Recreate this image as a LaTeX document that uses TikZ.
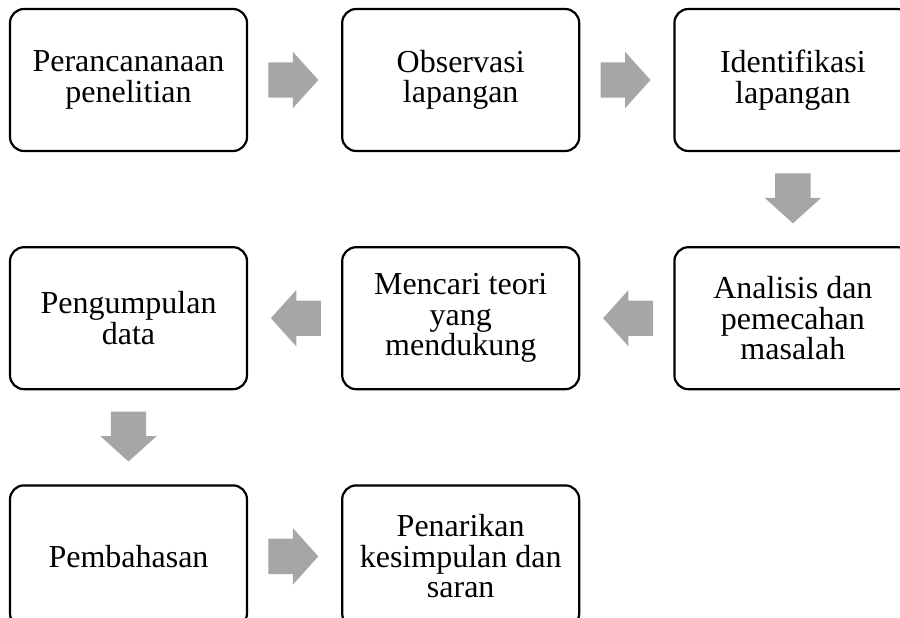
\documentclass[tikz,border=0pt]{standalone}
\usepackage{fontspec}
\setmainfont{Liberation Serif}
\usepackage{tikz}
\usetikzlibrary{positioning,calc,shapes.arrows}
\definecolor{abuabu}{RGB}{166,166,166}

\begin{document}
\begin{tikzpicture}[
	x=1pt, y=1pt,
	kotak/.style={
		draw, line width=2.2pt, rounded corners=14pt,
		minimum width=237pt, minimum height=142pt, inner sep=0pt,
		align=center, font=\fontsize{32}{30.5}\selectfont
	},
	panah/.style={
		single arrow, fill=abuabu, draw=none, inner xsep=0pt, inner ysep=17.5pt,
		minimum width=56pt, minimum height=50pt, anchor=tail,
		single arrow head extend=10.5pt, single arrow tip angle=96
	}
	]
	\useasboundingbox (0,0) rectangle (900,-618);
	
	% Baris pertama
	\node[kotak] (rancang) at (128.5,-80) {Perancananaan\\penelitian};
	\node[kotak, right=93pt of rancang] (observasi) {Observasi\\lapangan};
	\node[kotak, right=93pt of observasi] (identifikasi) {Identifikasi\\lapangan};
	
	% Baris kedua
	\node[kotak, below=94pt of identifikasi] (analisis) {Analisis dan\\pemecahan\\masalah};
	\node[kotak, left=93pt of analisis] (teori) {Mencari teori\\yang\\mendukung};
	\node[kotak, left=93pt of teori] (data) {Pengumpulan\\data};
	
	% Baris ketiga
	\node[kotak, below=94pt of data] (bahas) {Pembahasan};
	\node[kotak, right=93pt of bahas] (simpul) {Penarikan\\kesimpulan dan\\saran};
	
	% Panah
	\node[panah] (p1) at ($(rancang.east)!20pt!(observasi.west)$) {};
	\node[panah] (p2) at ($(observasi.east)!20pt!(identifikasi.west)$) {};
	\node[panah, rotate=-90] (p3) at ($(identifikasi.south)!21pt!(analisis.north)$) {};
	\node[panah, rotate=180] (p4) at ($(analisis.west)!20pt!(teori.east)$) {};
	\node[panah, rotate=180] (p5) at ($(teori.west)!20pt!(data.east)$) {};
	\node[panah, rotate=-90] (p6) at ($(data.south)!21pt!(bahas.north)$) {};
	\node[panah] (p7) at ($(bahas.east)!20pt!(simpul.west)$) {};
\end{tikzpicture}
\end{document}
